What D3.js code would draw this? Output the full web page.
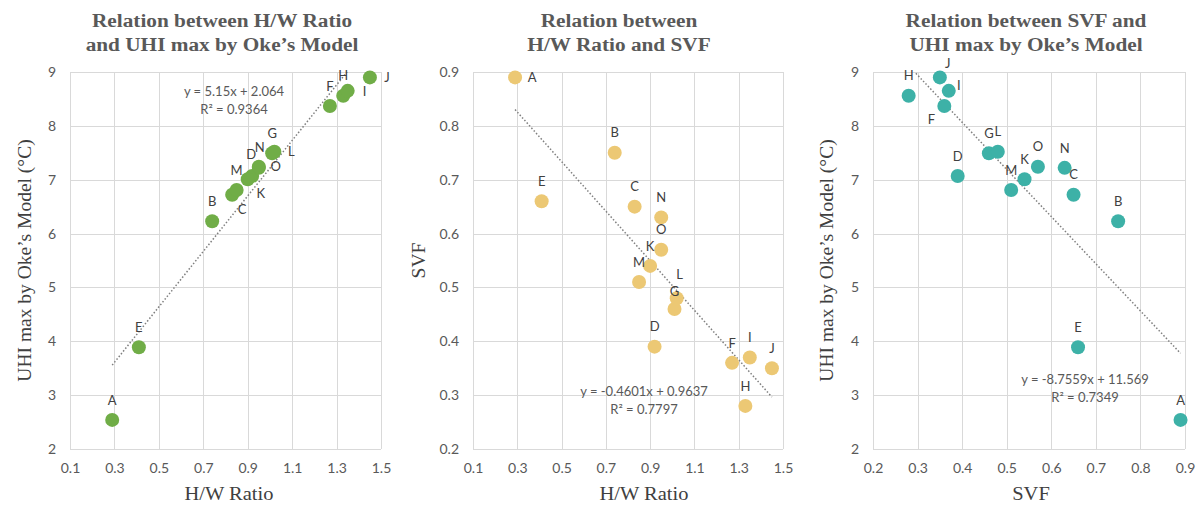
<!DOCTYPE html>
<html><head><meta charset="utf-8">
<script src="https://cdn.jsdelivr.net/npm/d3@7"></script>
<style>
html,body{margin:0;padding:0;background:#fff;}
svg{display:block;}
</style></head>
<body>
<svg id="chart" width="1204" height="507"></svg>
<script>
// ---- data ----
const sites = ["A","B","C","D","E","F","G","H","I","J","K","L","M","N","O"];
const hwRatio = [0.29,0.74,0.83,0.92,0.41,1.27,1.01,1.33,1.35,1.45,0.90,1.02,0.85,0.95,0.95];
const svf     = [0.89,0.75,0.65,0.39,0.66,0.36,0.46,0.28,0.37,0.35,0.54,0.48,0.51,0.63,0.57];
const uhiMax  = [2.54,6.23,6.72,7.07,3.89,8.37,7.49,8.56,8.65,8.90,7.01,7.52,6.81,7.22,7.24];

const hwTicks  = [0.1,0.3,0.5,0.7,0.9,1.1,1.3,1.5];
const svfXTicks = [0.2,0.3,0.4,0.5,0.6,0.7,0.8,0.9];
const uhiTicks = [2,3,4,5,6,7,8,9];
const svfYTicks = [0.2,0.3,0.4,0.5,0.6,0.7,0.8,0.9];

const titles = [
  ["Relation between H/W Ratio","and UHI max by Oke\u2019s Model"],
  ["Relation between","H/W Ratio and SVF"],
  ["Relation between SVF and","UHI max by Oke\u2019s Model"]
];
const xTitles = ["H/W Ratio","H/W Ratio","SVF"];
const yTitles = ["UHI max by Oke\u2019s Model (\u00B0C)","SVF","UHI max by Oke\u2019s Model (\u00B0C)"];
const trendSlope = [5.15,-0.4601,-8.7559];
const trendIntercept = [2.064,0.9637,11.569];
const trendText = [
  ["y = 5.15x + 2.064","R\u00B2 = 0.9364"],
  ["y = -0.4601x + 0.9637","R\u00B2 = 0.7797"],
  ["y = -8.7559x + 11.569","R\u00B2 = 0.7349"]
];

// ---- layout / style (not data) ----
const colors = ["#70AD47","#ECC874","#3DB1A7"];
const panels = [
  {x0:70, x1:381, titleX:222, xLabX:229, yLabX:24, eqX:234, eqY:96,
   xs:hwRatio, ys:uhiMax, xDom:[0.1,1.5], yDom:[2,9], xTicks:hwTicks, yTicks:uhiTicks, yFmt:d3.format("d"), xFmt:d3.format(".1f")},
  {x0:473, x1:783, titleX:619, xLabX:644, yLabX:418, eqX:644, eqY:396,
   xs:hwRatio, ys:svf, xDom:[0.1,1.5], yDom:[0.2,0.9], xTicks:hwTicks, yTicks:svfYTicks, yFmt:d3.format(".1f"), xFmt:d3.format(".1f")},
  {x0:873, x1:1185, titleX:1026, xLabX:1031, yLabX:826, eqX:1085, eqY:384,
   xs:svf, ys:uhiMax, xDom:[0.2,0.9], yDom:[2,9], xTicks:svfXTicks, yTicks:uhiTicks, yFmt:d3.format("d"), xFmt:d3.format(".1f")}
];
const yTop = 72, yBot = 449;
// label placement: "a" above, "r" right, or [dx,dy]
const labelPos = [
  {A:"a",B:"a",C:[10,15],D:[-1,-22],E:"a",F:"a",G:"a",H:"a",I:"r",J:"r",K:[13,14],L:"r",M:"a",N:[1,-21],O:"r"},
  {A:"r",B:"a",C:"a",D:"a",E:"a",F:"a",G:[0,-18],H:"a",I:"a",J:"a",K:"a",L:[3,-24],M:"a",N:"a",O:"a"},
  {A:"a",B:"a",C:"a",D:"a",E:"a",F:[-13,13],G:"a",H:"a",I:[10,-6],J:[8,-14],K:"a",L:"a",M:"a",N:"a",O:"a"}
];

const svg = d3.select("#chart");
const sans = "Lato, 'Open Sans', sans-serif";
const serif = "'Liberation Serif', 'Times New Roman', serif";

panels.forEach((p, i) => {
  const x = d3.scaleLinear().domain(p.xDom).range([p.x0, p.x1]);
  const y = d3.scaleLinear().domain(p.yDom).range([yBot, yTop]);
  const g = svg.append("g");

  // gridlines
  g.append("g").selectAll("line.v").data(p.xTicks).join("line")
    .attr("x1", d => Math.round(x(d)) + 0.5).attr("x2", d => Math.round(x(d)) + 0.5)
    .attr("y1", yTop).attr("y2", yBot)
    .attr("stroke", "#d9d9d9").attr("stroke-width", 1);
  g.append("g").selectAll("line.h").data(p.yTicks).join("line")
    .attr("y1", d => Math.round(y(d)) + 0.5).attr("y2", d => Math.round(y(d)) + 0.5)
    .attr("x1", p.x0).attr("x2", p.x1)
    .attr("stroke", "#d9d9d9").attr("stroke-width", 1);

  // axes (text only, via d3 axis)
  const xAxis = g.append("g").attr("transform", `translate(0,${yBot})`)
    .call(d3.axisBottom(x).tickValues(p.xTicks).tickFormat(p.xFmt).tickSize(0).tickPadding(14));
  const yAxis = g.append("g").attr("transform", `translate(${p.x0},0)`)
    .call(d3.axisLeft(y).tickValues(p.yTicks).tickFormat(p.yFmt).tickSize(0).tickPadding(14));
  [xAxis, yAxis].forEach(a => {
    a.select(".domain").remove();
    a.selectAll("text").attr("fill", "#595959").style("font-family", sans).style("font-size", "14px");
  });

  // trendline (clipped to plot)
  const clipId = "clip" + i;
  svg.append("clipPath").attr("id", clipId).append("rect")
    .attr("x", p.x0).attr("y", yTop).attr("width", p.x1 - p.x0).attr("height", yBot - yTop);
  const xs = p.xs;
  const xmin = d3.min(xs), xmax = d3.max(xs);
  const f = v => trendSlope[i] * v + trendIntercept[i];
  g.append("line")
    .attr("clip-path", `url(#${clipId})`)
    .attr("x1", x(xmin)).attr("y1", y(f(xmin)))
    .attr("x2", x(xmax)).attr("y2", y(f(xmax)))
    .attr("stroke", "#7f7f7f").attr("stroke-width", 1.5).attr("stroke-dasharray", "1.5,2");

  // points
  const pts = sites.map((s, k) => ({s, vx: xs[k], vy: p.ys[k]}));
  g.append("g").selectAll("circle").data(pts).join("circle")
    .attr("cx", d => x(d.vx)).attr("cy", d => y(d.vy)).attr("r", 7)
    .attr("fill", colors[i]);

  // labels
  g.append("g").selectAll("text").data(pts).join("text")
    .attr("x", d => {
      const lp = labelPos[i][d.s];
      if (lp === "a") return x(d.vx);
      if (lp === "r") return x(d.vx) + 17;
      return x(d.vx) + lp[0];
    })
    .attr("y", d => {
      const lp = labelPos[i][d.s];
      if (lp === "a") return y(d.vy) - 20;
      if (lp === "r") return y(d.vy);
      return y(d.vy) + lp[1];
    })
    .attr("dy", "0.36em")
    .attr("text-anchor", "middle")
    .attr("fill", "#404040").style("font-family", sans).style("font-size", "13px")
    .text(d => d.s);

  // trend equation
  const eq = g.append("text").attr("text-anchor", "middle")
    .attr("fill", "#595959").style("font-family", sans).style("font-size", "13px");
  eq.append("tspan").attr("x", p.eqX).attr("y", p.eqY).text(trendText[i][0]);
  eq.append("tspan").attr("x", p.eqX).attr("y", p.eqY + 18).text(trendText[i][1]);

  // title (slightly widened like the reference)
  [0, 1].forEach(li => {
    g.append("text")
      .attr("transform", `translate(${p.titleX},${27 + li * 24}) scale(1.12,1)`)
      .attr("text-anchor", "middle")
      .attr("fill", "#595959").style("font-family", serif).style("font-size", "19px").style("font-weight", "bold")
      .text(titles[i][li]);
  });

  // axis titles
  g.append("text")
    .attr("transform", `translate(${p.xLabX},500) scale(1.05,1)`)
    .attr("text-anchor", "middle")
    .attr("fill", "#404040").style("font-family", serif).style("font-size", "19.5px")
    .text(xTitles[i]);
  g.append("text")
    .attr("transform", `translate(${p.yLabX},${(yTop + yBot) / 2}) rotate(-90)`)
    .attr("text-anchor", "middle").attr("dy", "0.35em")
    .attr("fill", "#404040").style("font-family", serif).style("font-size", "19.5px")
    .text(yTitles[i]);
});
</script>
</body></html>
